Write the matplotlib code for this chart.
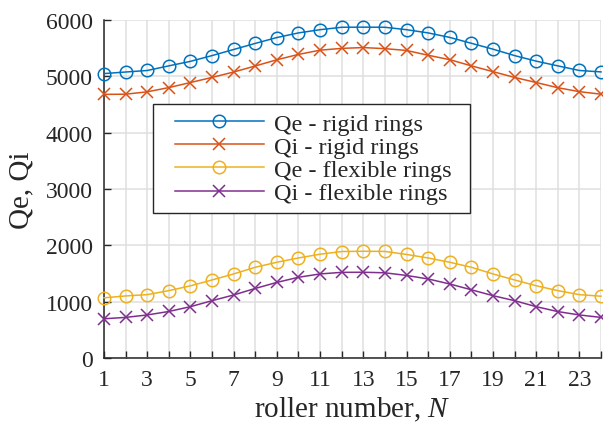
import numpy as np
import matplotlib
matplotlib.use("Agg")
import matplotlib.pyplot as plt
from matplotlib.ticker import MultipleLocator
from matplotlib.lines import Line2D
from matplotlib.legend_handler import HandlerLine2D

plt.rcParams['font.family'] = ['Liberation Serif', 'DejaVu Serif']
plt.rcParams['mathtext.fontset'] = 'custom'
plt.rcParams['mathtext.it'] = 'Liberation Serif:italic'

# roller number
rollers = list(range(1, 25))

# values
qe_rigid = [5045, 5073, 5100, 5182, 5262, 5364, 5472, 5580, 5684, 5766, 5823, 5866,
            5868, 5866, 5823, 5766, 5686, 5582, 5478, 5364, 5266, 5182, 5100, 5075]
qi_rigid = [4677, 4680, 4722, 4797, 4887, 4977, 5073, 5180, 5290, 5385, 5460, 5492,
            5506, 5487, 5455, 5370, 5292, 5182, 5080, 4977, 4887, 4795, 4725, 4680]
qe_flex = [1072, 1105, 1128, 1199, 1284, 1388, 1495, 1613, 1702, 1778, 1845, 1892,
           1897, 1894, 1840, 1778, 1702, 1613, 1495, 1388, 1286, 1199, 1128, 1100]
qi_flex = [700, 725, 768, 830, 915, 1021, 1122, 1238, 1345, 1436, 1495, 1523,
           1525, 1515, 1468, 1406, 1317, 1214, 1110, 1021, 915, 828, 768, 725]

labels = ["Qe - rigid rings", "Qi - rigid rings", "Qe - flexible rings", "Qi - flexible rings"]
colors = ["#0072BD", "#D95319", "#EDB120", "#7E2F8E"]
markers = ["o", "x", "o", "x"]

fig = plt.figure(figsize=(6.03, 4.31), dpi=100)
ax = fig.add_axes([104 / 603, 1 - 359.3 / 431, 497 / 603, 338.6 / 431])

for vals, lab, c, m in zip([qe_rigid, qi_rigid, qe_flex, qi_flex], labels, colors, markers):
    ax.plot(rollers, vals, color=c, marker=m, markersize=9, markerfacecolor="none",
            markeredgewidth=1.1, linewidth=1.1, label=lab, clip_on=False, zorder=3)

ax.set_xlim(1, 24)
ax.set_ylim(0, 6000)
ax.xaxis.set_major_locator(MultipleLocator(1))
ax.yaxis.set_major_locator(MultipleLocator(1000))
ax.set_xticklabels([str(int(t)) if int(t) % 2 == 1 else "" for t in ax.get_xticks()])

ax.grid(True, color="#dfdfdf", linewidth=1.1)
ax.set_axisbelow(True)
for s in ["top", "right"]:
    ax.spines[s].set_visible(False)
for s in ["left", "bottom"]:
    ax.spines[s].set_color("#262626")
    ax.spines[s].set_linewidth(1.1)
ax.tick_params(direction="in", length=5, width=1.0, color="#262626",
               labelsize=17, labelcolor="#262626", pad=8)

ax.set_xlabel("roller number, $N$", fontsize=21, color="#262626", labelpad=3)
ax.set_ylabel("Qe, Qi", fontsize=21, color="#262626", labelpad=8)

leg = ax.legend(loc="upper left", bbox_to_anchor=(0.0986, 0.438, 0.638, 0.313),
                mode="expand", borderaxespad=0,
                fontsize=17.5, fancybox=False, framealpha=1, edgecolor="#262626",
                handlelength=4.2, handletextpad=0.42, labelspacing=0.05,
                borderpad=0.35, markerscale=1.0,
                handler_map={Line2D: HandlerLine2D(xpad=0.55)})
leg.get_frame().set_linewidth(1.0)
for t in leg.get_texts():
    t.set_color("#262626")

fig.savefig("out.png", dpi=100)
